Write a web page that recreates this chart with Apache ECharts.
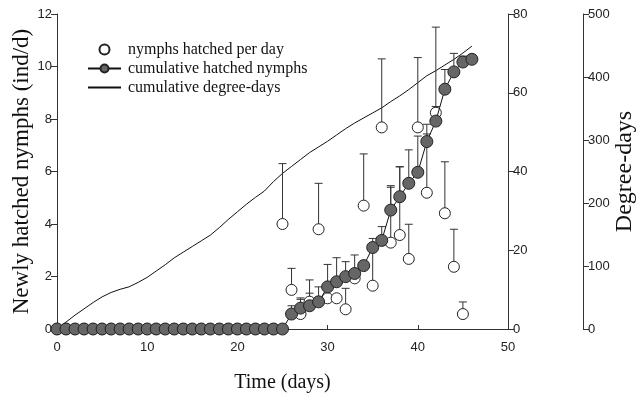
<!DOCTYPE html>
<html>
<head>
<meta charset="utf-8">
<script src="https://cdn.jsdelivr.net/npm/echarts@6/dist/echarts.min.js"></script>
<style>
  body { margin: 0; background: #fff; }
  #chart { width: 638px; height: 397px; }
</style>
</head>
<body>
<div id="chart"></div>
<script>
// days of observation
var days = [0,1,2,3,4,5,6,7,8,9,10,11,12,13,14,15,16,17,18,19,20,21,22,23,24,25,26,27,28,29,30,31,32,33,34,35,36,37,38,39,40,41,42,43,44,45,46];

// nymphs hatched per day (left axis), days 0..45
var daily = [0,0,0,0,0,0,0,0,0,0,0,0,0,0,0,0,0,0,0,0,0,0,0,0,0,
  4.0,1.49,0.57,1.04,3.8,1.17,1.17,0.75,1.93,4.7,1.65,7.68,3.29,3.58,2.67,7.68,5.19,8.24,4.41,2.37,0.57];
// upper error of daily values (null = none drawn)
var dailyTop = [null,null,null,null,null,null,null,null,null,null,null,null,null,null,null,null,null,null,null,null,null,null,null,null,null,
  6.3,2.31,1.13,1.87,5.55,null,null,1.55,null,6.67,3.45,10.29,5.4,6.18,3.99,10.34,7.43,11.5,6.37,3.8,1.03];

// cumulative hatched nymphs (middle axis 0-80), days 0..46
var cumul = [0,0,0,0,0,0,0,0,0,0,0,0,0,0,0,0,0,0,0,0,0,0,0,0,0,0,
  3.8,5.3,5.9,6.9,10.7,12.0,13.3,14.1,16.1,20.7,22.5,30.2,33.6,37.0,39.8,47.6,52.8,60.9,65.3,67.8,68.5];
var cumulTop = [null,null,null,null,null,null,null,null,null,null,null,null,null,null,null,null,null,null,null,null,null,null,null,null,null,null,
  5.9,7.9,9.1,10.7,16.4,18.1,17.1,18.8,null,null,26,36.4,41.2,45.5,49,52,56.5,65.9,70,69.3,69.6];

// cumulative degree-days (right axis 0-500), days 0..46
var degreeDays = [0,11,22,32,42,51,58,63,67,74,82,92,102,113,122,131,140,149,161,174,186,198,209,219,234,
  247,258,269,280,289,298,308,318,327,335,343,351,361,370,380,391,402,410,419,428,438,449];

var sans = 'Liberation Sans';
var serif = 'Liberation Serif';
var axisCol = '#333';

function pairs(vals){
  var out = [];
  for (var i = 0; i < vals.length; i++) out.push([days[i], vals[i]]);
  return out;
}
function errs(vals, tops){
  var out = [];
  for (var i = 0; i < tops.length; i++) {
    if (tops[i] != null) out.push([days[i], vals[i], tops[i]]);
  }
  return out;
}
function drawErr(params, api){
  var lo = api.coord([api.value(0), api.value(1)]);
  var hi = api.coord([api.value(0), api.value(2)]);
  var st = { stroke: '#333', lineWidth: 1 };
  return {
    type: 'group',
    children: [
      { type: 'line', shape: { x1: lo[0], y1: lo[1], x2: hi[0], y2: hi[1] }, style: st },
      { type: 'line', shape: { x1: hi[0] - 4, y1: hi[1], x2: hi[0] + 4, y2: hi[1] }, style: st }
    ]
  };
}

function yAxisBase(min, max, interval){
  return {
    type: 'value', min: min, max: max, interval: interval,
    splitLine: { show: false },
    axisLine: { show: true, lineStyle: { color: axisCol, width: 1 } },
    axisTick: { show: true, length: 6, lineStyle: { color: axisCol } },
    axisLabel: { fontFamily: sans, fontSize: 13, color: '#222', margin: 5 }
  };
}

var chart = echarts.init(document.getElementById('chart'));
var left = yAxisBase(0, 12, 2);
left.position = 'left';
left.name = 'Newly hatched nymphs (ind/d)';
left.nameLocation = 'middle';
left.nameRotate = 90;
left.nameGap = 24;
left.nameMoveOverlap = false;
left.nameTextStyle = { fontFamily: serif, fontSize: 23, color: '#111' };

var mid = yAxisBase(0, 80, 20);
mid.position = 'right';
mid.offset = 0;

var right = yAxisBase(0, 500, 100);
right.position = 'right';
right.offset = 75;
right.name = 'Degree-days';
right.nameLocation = 'middle';
right.nameRotate = 90;
right.nameGap = 30;
right.nameMoveOverlap = false;
right.nameTextStyle = { fontFamily: serif, fontSize: 24, color: '#111' };

var option = {
  animation: false,
  backgroundColor: '#fff',
  grid: { left: 57, right: 130, top: 14, bottom: 68, outerBoundsMode: 'none', containLabel: false },
  legend: {
    orient: 'vertical',
    left: 82, top: 35,
    itemWidth: 33, itemHeight: 10, itemGap: 0,
    textStyle: { fontFamily: serif, fontSize: 16, color: '#111', lineHeight: 19, padding: [0, 0, 0, 2] },
    data: [
      { name: 'nymphs hatched per day' },
      { name: 'cumulative hatched nymphs' },
      { name: 'cumulative degree-days', itemStyle: { opacity: 0 } }
    ]
  },
  xAxis: {
    type: 'value', min: 0, max: 50, interval: 10,
    splitLine: { show: false },
    axisLine: { onZero: false, lineStyle: { color: axisCol, width: 1 } },
    axisTick: { inside: true, length: 4, lineStyle: { color: axisCol } },
    axisLabel: { fontFamily: sans, fontSize: 13, color: '#222', margin: 12 },
    name: 'Time (days)', nameLocation: 'middle', nameGap: 44, nameMoveOverlap: false,
    nameTextStyle: { fontFamily: serif, fontSize: 20, color: '#111' }
  },
  yAxis: [left, mid, right],
  series: [
    {
      name: 'cumulative degree-days', type: 'line', yAxisIndex: 2,
      data: pairs(degreeDays), showSymbol: false, symbol: 'none',
      lineStyle: { color: '#111', width: 1 }, itemStyle: { color: '#111' }, z: 1
    },
    {
      type: 'custom', yAxisIndex: 0, data: errs(daily, dailyTop),
      renderItem: drawErr, z: 2, silent: true
    },
    {
      type: 'custom', yAxisIndex: 1, data: errs(cumul, cumulTop),
      renderItem: drawErr, z: 2, silent: true
    },
    {
      name: 'nymphs hatched per day', type: 'scatter', yAxisIndex: 0,
      data: pairs(daily), symbol: 'circle', symbolSize: 11,
      itemStyle: { color: '#fff', borderColor: '#222', borderWidth: 1, opacity: 1 }, z: 3
    },
    {
      name: 'cumulative hatched nymphs', type: 'line', yAxisIndex: 1,
      data: pairs(cumul), symbol: 'circle', symbolSize: 12, showSymbol: true,
      lineStyle: { color: '#111', width: 1 },
      itemStyle: { color: '#666', borderColor: '#222', borderWidth: 1 }, z: 4
    }
  ]
};
chart.setOption(option);
</script>
</body>
</html>
